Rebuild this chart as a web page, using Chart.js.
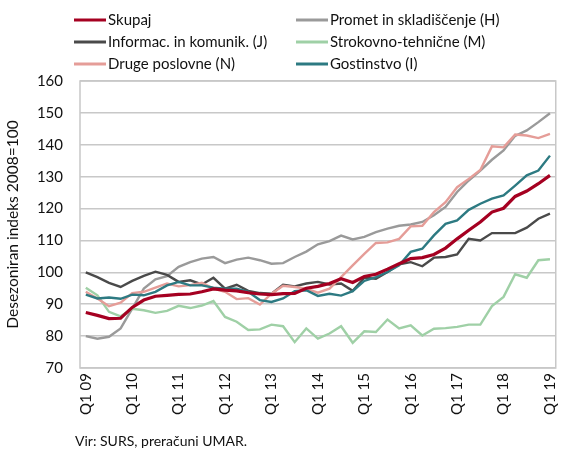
<!DOCTYPE html>
<html>
<head>
<meta charset="utf-8">
<script src="https://cdn.jsdelivr.net/npm/chart.js@4/dist/chart.umd.min.js"></script>
<style>
    html, body { margin: 0; padding: 0; background: #fff; }
    #wrap { width: 573px; height: 449px; position: relative; }
</style>
</head>
<body>
<div id="wrap"><canvas id="chart"></canvas></div>
<script>
// quarters Q1 09 .. Q1 19
const quarters = [
    'Q1 09', 'Q2 09', 'Q3 09', 'Q4 09', 'Q1 10', 'Q2 10', 'Q3 10', 'Q4 10',
    'Q1 11', 'Q2 11', 'Q3 11', 'Q4 11', 'Q1 12', 'Q2 12', 'Q3 12', 'Q4 12',
    'Q1 13', 'Q2 13', 'Q3 13', 'Q4 13', 'Q1 14', 'Q2 14', 'Q3 14', 'Q4 14',
    'Q1 15', 'Q2 15', 'Q3 15', 'Q4 15', 'Q1 16', 'Q2 16', 'Q3 16', 'Q4 16',
    'Q1 17', 'Q2 17', 'Q3 17', 'Q4 17', 'Q1 18', 'Q2 18', 'Q3 18', 'Q4 18',
    'Q1 19'
];
const yTicks = [70, 80, 90, 100, 110, 120, 130, 140, 150, 160];

// desezoniran indeks 2008=100
const skupaj = [87.4, 86.5, 85.5, 85.6, 89, 91.3, 92.5, 92.8, 93.1, 93.2, 93.9, 94.8, 94.4, 94.2, 93.6, 93.2, 93, 93.3, 93.4, 95, 95.6, 96.5, 98, 96.8, 98.7, 99.4, 101, 102.7, 104.3, 104.6, 105.6, 107.6, 110.5, 113.2, 115.8, 118.9, 120.1, 123.8, 125.5, 127.8, 130.4];
const promet = [80, 79.2, 79.8, 82.4, 88.6, 94.9, 97.8, 98.8, 101.7, 103.2, 104.3, 104.8, 102.9, 104, 104.6, 103.8, 102.7, 102.9, 104.8, 106.5, 108.8, 109.8, 111.5, 110.3, 111.1, 112.6, 113.7, 114.6, 115, 115.8, 117.9, 120.5, 125.2, 128.8, 131.9, 135.3, 138.2, 142.8, 144.5, 147.1, 149.9];
const informac = [100, 98.5, 96.7, 95.4, 97.3, 98.9, 100.2, 99.2, 97, 97.5, 96.2, 98.3, 94.9, 96.1, 94.2, 93.5, 93.3, 96.1, 95.6, 96.5, 97, 96.2, 96.5, 94.2, 98.3, 98, 100.1, 102.5, 103.2, 101.9, 104.6, 104.8, 105.6, 110.5, 110, 112.3, 112.3, 112.3, 114, 116.8, 118.4];
const strokovno = [95.2, 92.8, 87.6, 86.2, 88.6, 88.1, 87.3, 87.9, 89.5, 88.8, 89.6, 91, 86, 84.5, 81.9, 82.1, 83.6, 83.1, 78.1, 82.4, 79.2, 80.8, 83.1, 77.9, 81.5, 81.3, 85.2, 82.4, 83.4, 80.2, 82.3, 82.5, 82.9, 83.6, 83.6, 89.4, 92.3, 99.4, 98.3, 103.8, 104.1];
const druge = [93.9, 91.8, 89.4, 90.5, 93.5, 93.9, 95.2, 96.5, 95.6, 96, 96.7, 94.9, 93.9, 91.6, 91.9, 89.9, 93.3, 95.8, 95.4, 94.9, 93.6, 94.9, 98.5, 102.2, 105.8, 109.2, 109.4, 110.5, 114.4, 114.6, 118.9, 122, 126.7, 129.3, 132.1, 139.5, 139.2, 143.2, 142.9, 142.1, 143.4];
const gostinstvo = [93, 91.8, 92.1, 91.7, 93, 92.8, 93.9, 95.9, 97, 95.9, 95.9, 95.2, 94.9, 94.9, 93.9, 91.3, 90.7, 91.8, 94.1, 94.4, 92.6, 93.3, 92.7, 94.1, 97.3, 98.5, 100.1, 102.2, 106.4, 107.4, 111.6, 115.2, 116.3, 119.6, 121.5, 123.1, 124.1, 127.2, 130.4, 131.9, 136.6];

const FONT = 'Lato, "Noto Sans", sans-serif';
const GRID = '#c8c8c8';
const TEXT = '#111';

/*------------------------------ legend + frame + source ------------------------------*/
// legend order: left column then right column, row by row
const legendSlots = [
    { x: 74, y: 20 },  { x: 296, y: 20 },
    { x: 74, y: 42 },  { x: 296, y: 42 },
    { x: 74, y: 64 },  { x: 296, y: 64 }
];

const extras = {
    id: 'extras',
    beforeDatasetsDraw(chart) {
        const a = chart.chartArea;
        const ctx = chart.ctx;
        ctx.save();
        ctx.strokeStyle = GRID;
        ctx.lineWidth = 1.5;
        ctx.strokeRect(a.left, a.top, a.right - a.left, a.bottom - a.top);
        ctx.restore();
    },
    afterDraw(chart) {
        const ctx = chart.ctx;
        ctx.save();
        ctx.font = '15px ' + FONT;
        ctx.textBaseline = 'middle';
        ctx.fillStyle = TEXT;
        chart.data.datasets.forEach((ds, i) => {
            const s = legendSlots[i];
            ctx.strokeStyle = ds.borderColor;
            ctx.lineWidth = 3;
            ctx.beginPath();
            ctx.moveTo(s.x, s.y);
            ctx.lineTo(s.x + 32, s.y);
            ctx.stroke();
            ctx.fillText(ds.label, s.x + 34, s.y);
        });
        // source
        ctx.font = '14px ' + FONT;
        ctx.textBaseline = 'alphabetic';
        ctx.fillText('Vir: SURS, preračuni UMAR.', 75, 446);
        ctx.restore();
    }
};

/*------------------------------------- chart -------------------------------------*/
const datasets = [
    { label: 'Skupaj', data: skupaj, borderColor: '#a50021', borderWidth: 3.2, order: 0 },
    { label: 'Promet in skladiščenje (H)', data: promet, borderColor: '#9a9a9a', borderWidth: 2.4, order: 5 },
    { label: 'Informac. in komunik. (J)', data: informac, borderColor: '#4a4a4a', borderWidth: 2.4, order: 4 },
    { label: 'Strokovno-tehnične (M)', data: strokovno, borderColor: '#9fd0a6', borderWidth: 2.4, order: 3 },
    { label: 'Druge poslovne (N)', data: druge, borderColor: '#e59d98', borderWidth: 2.4, order: 2 },
    { label: 'Gostinstvo (I)', data: gostinstvo, borderColor: '#2d7a82', borderWidth: 2.4, order: 1 }
];
datasets.forEach(ds => {
    ds.pointRadius = 0;
    ds.tension = 0;
    ds.fill = false;
});

new Chart(document.getElementById('chart'), {
    type: 'line',
    data: { labels: quarters, datasets: datasets },
    options: {
        responsive: true,
        maintainAspectRatio: false,
        animation: false,
        layout: { padding: { top: 81, right: 3, bottom: 0, left: 0 } },
        plugins: {
            legend: { display: false },
            tooltip: { enabled: false }
        },
        scales: {
            x: {
                offset: true,
                grid: { display: false, drawTicks: false },
                border: { display: false },
                ticks: {
                    autoSkip: false,
                    minRotation: 90,
                    maxRotation: 90,
                    padding: 5,
                    color: TEXT,
                    font: { family: FONT, size: 15 },
                    callback: function (v, i) {
                        return i % 4 === 0 ? quarters[i] : '';
                    }
                },
                afterFit: function (scale) { scale.height = 81; }
            },
            y: {
                min: 70,
                max: 160,
                afterBuildTicks: function (scale) {
                    scale.ticks = yTicks.map(v => ({ value: v }));
                },
                grid: { color: GRID, lineWidth: 1.5, drawTicks: false },
                border: { display: false },
                ticks: {
                    padding: 17,
                    color: TEXT,
                    font: { family: FONT, size: 15 }
                },
                title: {
                    display: true,
                    text: 'Desezoniran indeks 2008=100',
                    color: TEXT,
                    font: { family: FONT, size: 15.5 },
                    padding: { top: 4, bottom: 0 }
                },
                afterFit: function (scale) { scale.width = 80; }
            }
        }
    },
    plugins: [extras]
});
</script>
</body>
</html>
